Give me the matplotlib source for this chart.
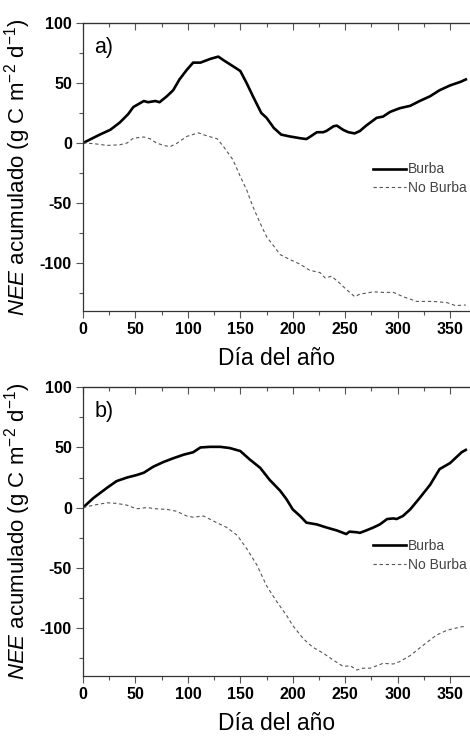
import matplotlib
matplotlib.use('Agg')
import matplotlib.pyplot as plt
from matplotlib.ticker import MultipleLocator

plt.rcParams['font.family'] = ['Liberation Sans', 'DejaVu Sans']
plt.rcParams['mathtext.fontset'] = 'custom'
plt.rcParams['mathtext.rm'] = 'Liberation Sans'
plt.rcParams['mathtext.it'] = 'Liberation Sans:italic'
plt.rcParams['axes.unicode_minus'] = False

# panel a)
a_burba_day = [0, 16, 26, 35, 43, 48, 54, 58, 62, 69, 73, 80, 86, 92, 99, 105, 112,
               121, 129, 134, 143, 150, 156, 162, 170, 175, 182, 189, 197, 207, 213,
               217, 223, 229, 232, 239, 242, 248, 253, 259, 264, 270, 280, 286, 293,
               302, 312, 321, 331, 340, 350, 360, 365]
a_burba_nee = [0, 7, 11, 17, 24, 30, 33, 35, 34, 35, 34, 39, 44, 53, 61, 67, 67,
               70, 72, 69, 64, 60, 50, 39, 25, 21, 12.5, 7, 5.5, 4, 3.3,
               5.5, 9, 9, 10, 14, 14.5, 11, 9, 8, 10, 14.5, 21, 22, 26,
               29, 31, 35, 39, 44, 48, 51, 53]
a_noburba_day = [0, 10, 23, 35, 42, 48, 58, 64, 70, 77, 83, 89, 99, 110, 118, 128,
                 134, 143, 150, 156, 162, 169, 175, 182, 188, 197, 207, 216, 226,
                 231, 237, 245, 251, 259, 264, 277, 286, 296, 305, 318, 334, 347,
                 355, 365]
a_noburba_nee = [0, -0.5, -2, -1.5, 0, 4, 5, 3.5, 0, -2, -3, -0.5, 5.5, 8.5, 6, 3.5,
                 -3, -14, -28, -39, -53, -67, -78, -86, -93, -97, -101, -106, -108,
                 -112.5, -111, -117, -122, -128, -126, -124, -124.5, -124.5, -128,
                 -132, -132, -133, -135.5, -135]

# panel b)
b_burba_day = [0, 10, 23, 32, 42, 51, 58, 67, 77, 86, 96, 105, 112, 121, 131, 140,
               150, 159, 169, 178, 188, 194, 200, 207, 213, 223, 232, 242, 248, 251,
               254, 261, 264, 270, 277, 283, 290, 296, 299, 305, 312, 321, 331, 340,
               350, 361, 365]
b_burba_nee = [0, 8, 16.5, 22, 25, 27, 29, 34, 38, 41, 44, 46, 50, 50.5, 50.5, 49.5,
               47, 40, 33, 23, 14, 7, -1.5, -7, -12.5, -14, -16.5, -19, -21, -22,
               -20, -20.5, -21, -19, -16.5, -14, -9.5, -9, -9.5, -7, -1.5, 8, 19, 32,
               37, 46, 48]
b_noburba_day = [0, 10, 23, 32, 42, 51, 61, 70, 80, 89, 99, 105, 115, 124, 137, 147,
                 156, 166, 175, 185, 194, 200, 210, 219, 229, 239, 248, 255, 261,
                 267, 274, 280, 286, 296, 302, 312, 325, 337, 347, 361, 365]
b_noburba_nee = [0, 2, 4, 3.5, 2, -1, 0, -1, -1.5, -3, -7, -8, -7, -11, -16.5, -23,
                 -34, -48, -65, -78.5, -89.5, -98, -109, -116, -121, -127, -132,
                 -131.5, -135, -133.5, -133.5, -131.5, -129.5, -130, -128, -123,
                 -114, -106, -102, -99, -99]

panels = [
    ('a)', a_burba_day, a_burba_nee, a_noburba_day, a_noburba_nee),
    ('b)', b_burba_day, b_burba_nee, b_noburba_day, b_noburba_nee),
]
positions = [[0.1766, 0.5786, 0.8234, 0.3902],
             [0.1766, 0.0840, 0.8234, 0.3912]]
legend_y = [0.535, 0.495]

fig = plt.figure(figsize=(4.7, 7.38), dpi=100)

for (tag, bd, bv, nd, nv), pos, ly in zip(panels, positions, legend_y):
    ax = fig.add_axes(pos)
    ax.plot(bd, bv, color='black', lw=1.9, label='Burba')
    ax.plot(nd, nv, color='#555555', lw=0.8, dashes=(3, 2.5), label='No Burba')
    ax.set_xlim(0, 369)
    ax.set_ylim(-140, 100)
    ax.xaxis.set_major_locator(MultipleLocator(50))
    ax.xaxis.set_minor_locator(MultipleLocator(25))
    ax.yaxis.set_major_locator(MultipleLocator(50))
    ax.yaxis.set_minor_locator(MultipleLocator(25))
    ax.spines['right'].set_visible(False)
    for s in ['left', 'bottom', 'top']:
        ax.spines[s].set_color('#333333')
        ax.spines[s].set_linewidth(0.9)
    ax.tick_params(which='both', direction='out', color='#555555', width=0.8,
                   top=False, right=False)
    ax.tick_params(which='major', length=5)
    ax.tick_params(which='minor', length=3)
    ax.tick_params(labelsize=11.5, pad=3)
    for lab in ax.get_xticklabels() + ax.get_yticklabels():
        lab.set_fontweight('bold')
    # inward ticks along the top spine
    sec = ax.secondary_xaxis('top')
    sec.xaxis.set_major_locator(MultipleLocator(50))
    sec.xaxis.set_minor_locator(MultipleLocator(25))
    sec.tick_params(which='both', direction='in', color='#555555', width=0.8,
                    labeltop=False)
    sec.tick_params(which='major', length=5)
    sec.tick_params(which='minor', length=3)
    sec.spines['top'].set_color('#333333')

    ax.set_xlabel('Día del año', fontsize=16.5, labelpad=7)
    ax.set_ylabel(r'$\it{NEE}$ acumulado (g C m$^{-2}$ d$^{-1}$)', fontsize=16,
                  labelpad=5)
    ax.text(0.03, 0.915, tag, transform=ax.transAxes, fontsize=15.5, va='center')
    ax.legend(loc='upper left', bbox_to_anchor=(0.735, ly), frameon=False,
              fontsize=10, handlelength=2.4, handletextpad=0.1,
              labelspacing=0.35, borderaxespad=0, labelcolor='#444444')

fig.savefig('out.png', dpi=100)
